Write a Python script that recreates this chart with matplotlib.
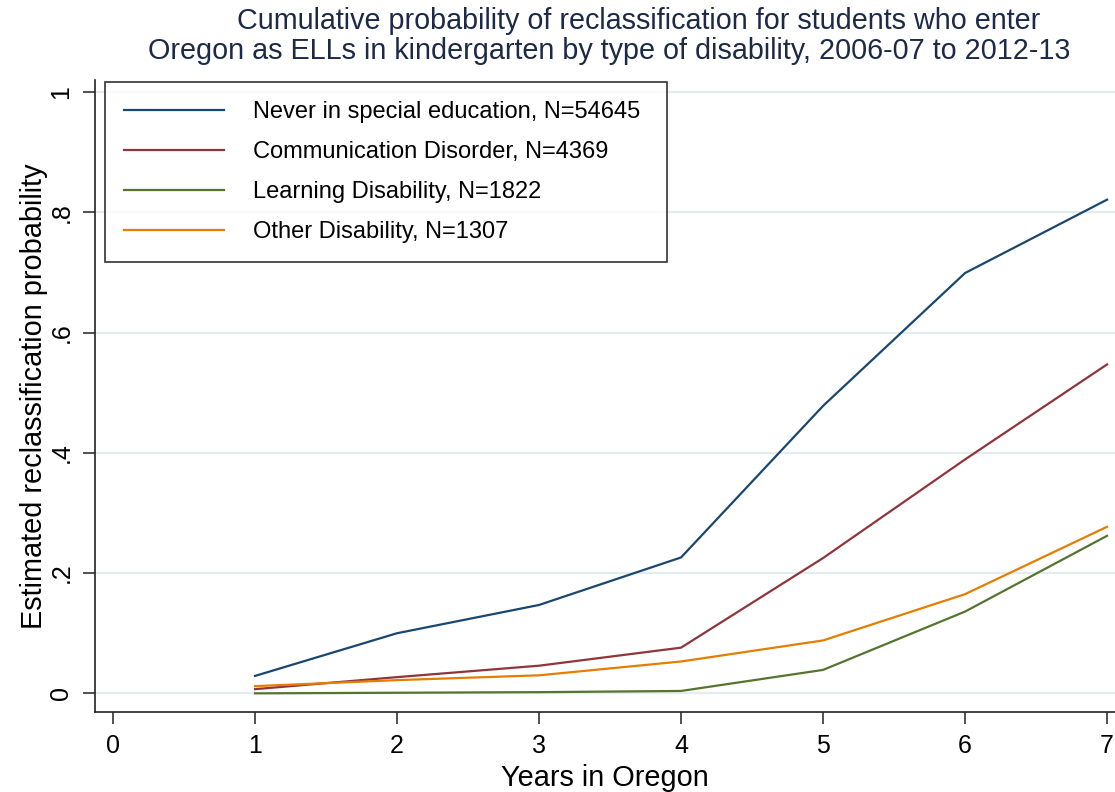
import matplotlib
matplotlib.use("Agg")
import matplotlib.pyplot as plt

plt.rcParams['font.family'] = ['Liberation Sans', 'DejaVu Sans']

years = [1, 2, 3, 4, 5, 6, 7]
never_sped = [0.029, 0.100, 0.147, 0.226, 0.478, 0.699, 0.821]
communication = [0.007, 0.027, 0.046, 0.076, 0.225, 0.389, 0.547]
learning = [0.000, 0.001, 0.002, 0.004, 0.039, 0.136, 0.262]
other = [0.012, 0.022, 0.030, 0.053, 0.088, 0.165, 0.277]

series_labels = ["Never in special education, N=54645",
                 "Communication Disorder, N=4369",
                 "Learning Disability, N=1822",
                 "Other Disability, N=1307"]
x_ticks = [0, 1, 2, 3, 4, 5, 6, 7]
y_ticks = [0, 0.2, 0.4, 0.6, 0.8, 1.0]
y_tick_labels = ["0", ".2", ".4", ".6", ".8", "1"]

title_line1 = "Cumulative probability of reclassification for students who enter"
title_line2 = "Oregon as ELLs in kindergarten by type of disability, 2006-07 to 2012-13"

colors = ["#1a476f", "#90353b", "#55752f", "#e37e00"]

fig = plt.figure(figsize=(11.15, 7.92), dpi=100)
ax = fig.add_axes([95/1115, 80/792, 1020/1115, 632/792])

for vals, lab, c in zip([never_sped, communication, learning, other], series_labels, colors):
    ax.plot(years, vals, color=c, lw=1.6, label=lab)

ax.set_xlim(-0.127, 7.056)
ax.set_ylim(-0.031, 1.02)
ax.set_xticks(x_ticks)
ax.set_xticklabels([str(t) for t in x_ticks], fontsize=18)
ax.set_yticks(y_ticks)
ax.set_yticklabels(y_tick_labels, fontsize=18, rotation=90, va='center')
ax.tick_params(axis='both', direction='out', length=8.5, width=1.1, color='#222222')
ax.tick_params(axis='x', pad=7)
ax.tick_params(axis='y', pad=7)
ax.grid(axis='y', color='#e3edef', lw=1.6)
ax.set_axisbelow(True)
for s in ['top', 'right']:
    ax.spines[s].set_visible(False)
for s in ['left', 'bottom']:
    ax.spines[s].set_linewidth(1.2)
    ax.spines[s].set_color('#222222')

ax.set_xlabel("Years in Oregon", fontsize=20.8, labelpad=5)
ax.set_ylabel("Estimated reclassification probability", fontsize=20.8, labelpad=1)

leg = ax.legend(loc='upper left', bbox_to_anchor=(10/1020, 1 - 2/632, 562/1020, 0.0),
                mode='expand', fontsize=17,
                frameon=True, fancybox=False, handlelength=4.25, handletextpad=1.2,
                labelspacing=0.77, borderpad=0.8, borderaxespad=0)
leg.get_frame().set_edgecolor('black')
leg.get_frame().set_linewidth(1.2)

fig.text(639/1115, 1 - 21/792, title_line1, ha='center', va='center', fontsize=20.7, color='#1c2a48')
fig.text(609/1115, 1 - 51/792, title_line2, ha='center', va='center', fontsize=20.7, color='#1c2a48')

fig.savefig("out.png", dpi=100)
